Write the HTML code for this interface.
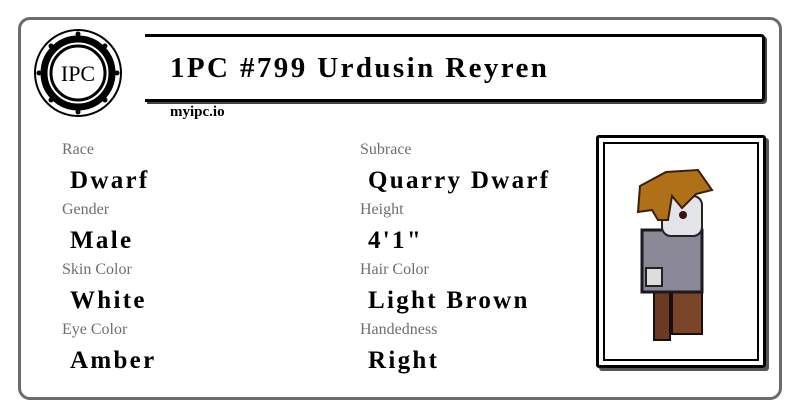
<!DOCTYPE html>
<html><head><style>
body{margin:0;width:800px;height:418px;background:#fff;position:relative;overflow:hidden;font-family:"Liberation Serif",serif}
.card{position:absolute;left:18px;top:17px;width:758px;height:377px;border:3px solid #6b6b6b;border-radius:12px}
.hdr{position:absolute;left:145px;top:34px;width:617px;height:62px;border:3px solid #000;border-left:none;border-radius:0 4px 4px 0;box-shadow:2px 2px 0 #444}
.title{position:absolute;left:170px;top:52px;font-size:29px;font-weight:bold;letter-spacing:2.4px}
.site{position:absolute;left:170px;top:104px;font-size:15px;font-weight:bold}
.l{position:absolute;font-size:16px;color:#6e6e6e}
.v{position:absolute;font-size:25px;font-weight:bold;letter-spacing:2.3px}
.pf{position:absolute;left:596px;top:135px;width:164px;height:227px;border:3px solid #000;border-radius:3px;box-shadow:3px 3px 0 #555}
.pi{position:absolute;left:4px;top:4px;right:4px;bottom:4px;border:2px solid #000}
</style></head><body>
<div class="card"></div>
<div class="hdr"></div>
<svg style="position:absolute;left:32px;top:27px" width="92" height="92">
<circle cx="46" cy="46" r="43" fill="#fff" stroke="#000" stroke-width="2"/>
<circle cx="46" cy="46" r="34" fill="none" stroke="#000" stroke-width="7"/>
<circle cx="46" cy="46" r="27" fill="#fff" stroke="#000" stroke-width="3"/>
<g fill="#000"><circle cx="46" cy="7" r="2.5"/><circle cx="46" cy="85" r="2.5"/><circle cx="7" cy="46" r="2.5"/><circle cx="85" cy="46" r="2.5"/><circle cx="19" cy="19" r="2.5"/><circle cx="73" cy="19" r="2.5"/><circle cx="19" cy="73" r="2.5"/><circle cx="73" cy="73" r="2.5"/></g>
<text x="46" y="54" font-family="Liberation Serif" font-size="22" text-anchor="middle">IPC</text>
</svg>
<div class="title">1PC #799 Urdusin Reyren</div>
<div class="site">myipc.io</div>
<div class="l" style="left:62px;top:141px">Race</div><div class="v" style="left:70px;top:167px">Dwarf</div>
<div class="l" style="left:62px;top:201px">Gender</div><div class="v" style="left:70px;top:227px">Male</div>
<div class="l" style="left:62px;top:261px">Skin Color</div><div class="v" style="left:70px;top:287px">White</div>
<div class="l" style="left:62px;top:321px">Eye Color</div><div class="v" style="left:70px;top:347px">Amber</div>
<div class="l" style="left:360px;top:141px">Subrace</div><div class="v" style="left:368px;top:167px">Quarry Dwarf</div>
<div class="l" style="left:360px;top:201px">Height</div><div class="v" style="left:368px;top:227px">4'1"</div>
<div class="l" style="left:360px;top:261px">Hair Color</div><div class="v" style="left:368px;top:287px">Light Brown</div>
<div class="l" style="left:360px;top:321px">Handedness</div><div class="v" style="left:368px;top:347px">Right</div>
<div class="pf"><div class="pi"></div></div>
<svg style="position:absolute;left:636px;top:168px" width="90" height="180">
<rect x="18" y="120" width="16" height="52" fill="#6b3a22" stroke="#1a0d0d" stroke-width="2"/>
<rect x="36" y="120" width="30" height="46" fill="#7a4427" stroke="#1a0d0d" stroke-width="2"/>
<rect x="6" y="62" width="60" height="62" fill="#8a8796" stroke="#1c1720" stroke-width="3"/>
<rect x="10" y="100" width="16" height="18" fill="#ddd" stroke="#222" stroke-width="2"/>
<rect x="26" y="28" width="40" height="40" rx="9" fill="#e3e3ea" stroke="#222" stroke-width="2"/>
<circle cx="47" cy="47" r="4" fill="#3a1010"/>
<path d="M4 18 L30 4 L62 2 L76 22 L60 26 L46 40 L36 28 L32 52 L22 52 L16 42 L2 44 Z" fill="#b07018" stroke="#3a2008" stroke-width="2"/>
</svg>
</body></html>
